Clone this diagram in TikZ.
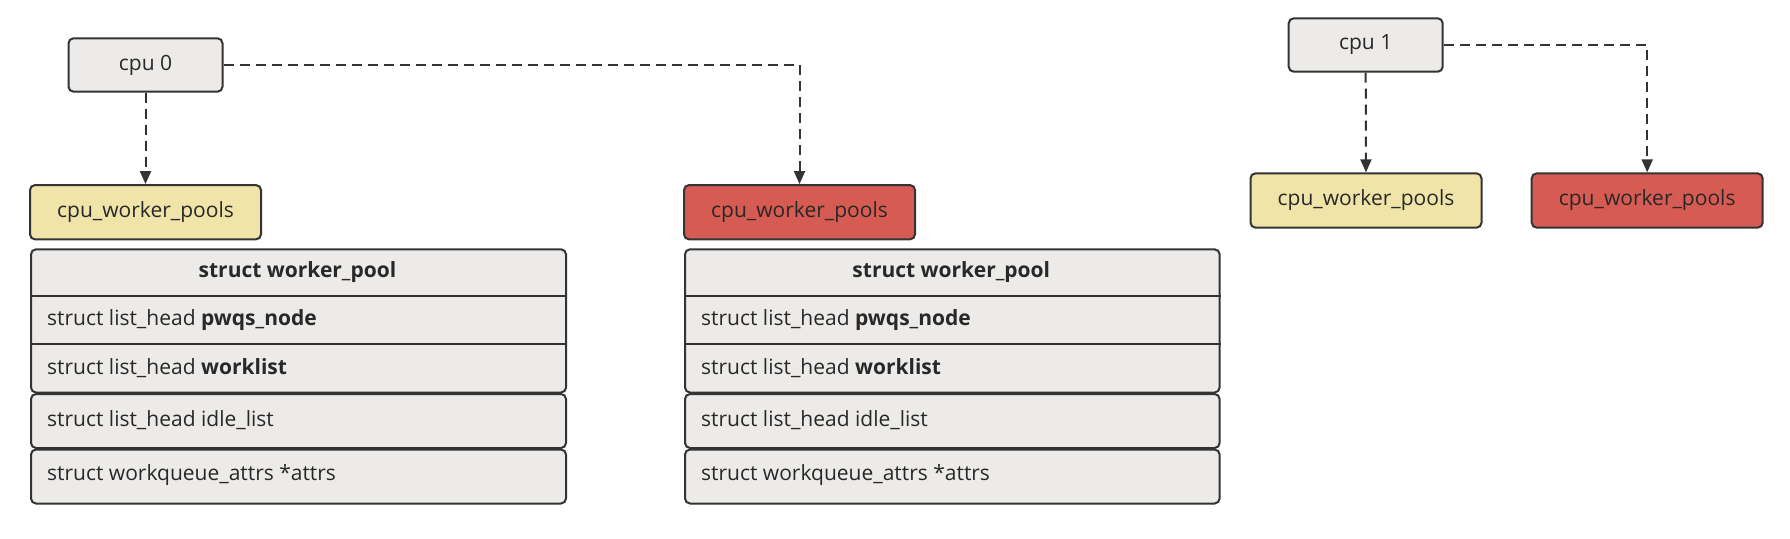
\documentclass[tikz,border=0pt]{standalone}
\usepackage{fontspec}
\setmainfont{Open Sans}
\usetikzlibrary{arrows.meta}
\definecolor{edge}{RGB}{51,51,51}
\definecolor{boxgray}{RGB}{236,235,233}
\definecolor{boxyellow}{RGB}{240,228,168}
\definecolor{boxred}{RGB}{214,91,82}
\definecolor{txt}{RGB}{40,40,40}
\tikzset{
  box/.style={draw=edge, line width=2pt, rounded corners=5pt, text=txt, inner sep=0pt, font=\fontsize{21}{24}\selectfont},
  cpubox/.style={box, fill=boxgray, minimum width=154pt, minimum height=53.4pt},
  poolyellow/.style={box, fill=boxyellow, minimum width=231pt, minimum height=54.3pt},
  poolred/.style={box, fill=boxred, minimum width=231pt, minimum height=54.3pt},
  frame/.style={box, fill=boxgray, anchor=north west},
  rowtxt/.style={text=txt, inner sep=0pt, anchor=west, font=\fontsize{21}{24}\selectfont},
  hdrtxt/.style={text=txt, inner sep=0pt, font=\fontsize{21}{24}\selectfont\bfseries},
  divider/.style={draw=edge, line width=2pt},
  link/.style={draw=edge, line width=2pt, dash pattern=on 10pt off 6pt, -{Triangle[length=13pt,width=11pt]}},
}
\begin{document}
\begin{tikzpicture}[x=1pt,y=-1pt]
\useasboundingbox (0,0) rectangle (1790,538);
% top nodes
\node[cpubox] (cpu0) at (145.5,65) {cpu 0};
\node[poolyellow] (py0) at (145.5,212.2) {cpu\_worker\_pools};
\node[poolred] (pr0) at (799.5,212.2) {cpu\_worker\_pools};
\node[cpubox] (cpu1) at (1365.7,45) {cpu 1};
\node[poolyellow] (py1) at (1366,200.5) {cpu\_worker\_pools};
\node[poolred] (pr1) at (1647.2,200.5) {cpu\_worker\_pools};
% left table
\node[frame, minimum width=535pt, minimum height=143.2pt] (gA) at (30,248.3) {};
\node[frame, minimum width=535pt, minimum height=54pt] (idA) at (30,393) {};
\node[frame, minimum width=535pt, minimum height=54pt] (atA) at (30,448.5) {};
\node[hdrtxt] (hA) at (297.5,272.1) {struct worker\_pool};
\node[rowtxt] (r1A) at (47,320) {struct list\_head \textbf{pwqs\_node}};
\node[rowtxt] (r2A) at (47,367.7) {struct list\_head \textbf{worklist}};
\node[rowtxt] (r3A) at (47,420) {struct list\_head idle\_list};
\node[rowtxt] (r4A) at (47,475.5) {struct workqueue\_attrs *attrs};
\coordinate (dA1) at (30,296);
\coordinate (dA2) at (30,344);
\draw[divider] (dA1) -- (dA1 -| gA.east);
\draw[divider] (dA2) -- (dA2 -| gA.east);
% right table
\node[frame, minimum width=534.6pt, minimum height=143.2pt] (gB) at (684,248.3) {};
\node[frame, minimum width=534.6pt, minimum height=54pt] (idB) at (684,393) {};
\node[frame, minimum width=534.6pt, minimum height=54pt] (atB) at (684,448.5) {};
\node[hdrtxt] (hB) at (951.3,272.1) {struct worker\_pool};
\node[rowtxt] (r1B) at (701,320) {struct list\_head \textbf{pwqs\_node}};
\node[rowtxt] (r2B) at (701,367.7) {struct list\_head \textbf{worklist}};
\node[rowtxt] (r3B) at (701,420) {struct list\_head idle\_list};
\node[rowtxt] (r4B) at (701,475.5) {struct workqueue\_attrs *attrs};
\coordinate (dB1) at (684,296);
\coordinate (dB2) at (684,344);
\draw[divider] (dB1) -- (dB1 -| gB.east);
\draw[divider] (dB2) -- (dB2 -| gB.east);
% connectors
\draw[link] (cpu0.south) -- (py0.north);
\draw[link] (cpu0.east) -| (pr0.north);
\draw[link] (cpu1.south) -- (py1.north);
\draw[link] (cpu1.east) -| (pr1.north);
\end{tikzpicture}
\end{document}
